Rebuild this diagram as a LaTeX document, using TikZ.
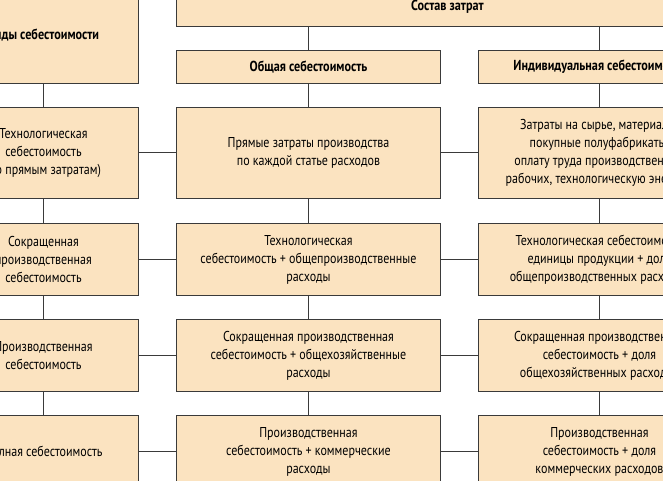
\documentclass[tikz,border=0pt]{standalone}
\usepackage{fontspec}
\setmainfont{PT Sans}[FakeStretch=0.84]
\definecolor{peach}{HTML}{FBE3C0}
\definecolor{edge}{HTML}{3A3A3A}
\begin{document}
\begin{tikzpicture}[x=1pt,y=-1pt,
  box/.style={draw=edge,line width=0.9pt,fill=peach,align=center,font=\fontsize{14.3}{18}\selectfont,inner sep=0pt,anchor=north west},
  hd/.style={box,font=\fontsize{14.5}{18}\selectfont\bfseries},
  ln/.style={draw=edge,line width=0.9pt}]
\useasboundingbox (0,0) rectangle (663,481);
\clip (0,0) rectangle (663,481);
% top
\node[hd,minimum width=542,minimum height=40] (top) at (176,-14) {Состав затрат};
\node[hd,minimum width=190,minimum height=97] (L0) at (-52,-14) {Виды себестоимости};
\node[hd,minimum width=264,minimum height=33] (M0) at (176,50) {Общая себестоимость};
\node[hd,minimum width=242,minimum height=33] (R0) at (478,50) {Индивидуальная себестоимость};
% row 1
\node[box,minimum width=190,minimum height=91] (L1) at (-52,107) {Технологическая\\себестоимость\\(по прямым затратам)};
\node[box,minimum width=264,minimum height=91] (M1) at (176,107) {Прямые затраты производства\\по каждой статье расходов};
\node[box,minimum width=242,minimum height=91] (R1) at (478,107) {Затраты на сырье, материалы,\\покупные полуфабрикаты,\\оплату труда производственных\\рабочих, технологическую энергию};
% row 2
\node[box,minimum width=190,minimum height=72] (L2) at (-52,223) {Сокращенная\\производственная\\себестоимость};
\node[box,minimum width=264,minimum height=72] (M2) at (176,223) {Технологическая\\себестоимость + общепроизводственные\\расходы};
\node[box,minimum width=242,minimum height=72] (R2) at (478,223) {Технологическая себестоимость\\единицы продукции + доля\\общепроизводственных расходов};
% row 3
\node[box,minimum width=190,minimum height=72] (L3) at (-52,319) {Производственная\\себестоимость};
\node[box,minimum width=264,minimum height=72] (M3) at (176,319) {Сокращенная производственная\\себестоимость + общехозяйственные\\расходы};
\node[box,minimum width=242,minimum height=72] (R3) at (478,319) {Сокращенная производственная\\себестоимость + доля\\общехозяйственных расходов};
% row 4
\node[box,minimum width=190,minimum height=72] (L4) at (-52,415) {Полная себестоимость};
\node[box,minimum width=264,minimum height=72] (M4) at (176,415) {Производственная\\себестоимость + коммерческие\\расходы};
\node[box,minimum width=242,minimum height=72] (R4) at (478,415) {Производственная\\себестоимость + доля\\коммерческих расходов};
% connectors
\foreach \a/\b in {L0/L1,L1/L2,L2/L3,L3/L4,M0/M1,M1/M2,M2/M3,M3/M4,R0/R1,R1/R2,R2/R3,R3/R4}
  \draw[ln] (\a.south) -- (\b.north);
\draw[ln] (M0.north) -- (M0.north |- top.south);
\draw[ln] (R0.north) -- (R0.north |- top.south);
\foreach \r in {1,2,3,4}{
  \draw[ln] (L\r.east) -- (M\r.west);
  \draw[ln] (M\r.east) -- (R\r.west);}
\end{tikzpicture}
\end{document}
